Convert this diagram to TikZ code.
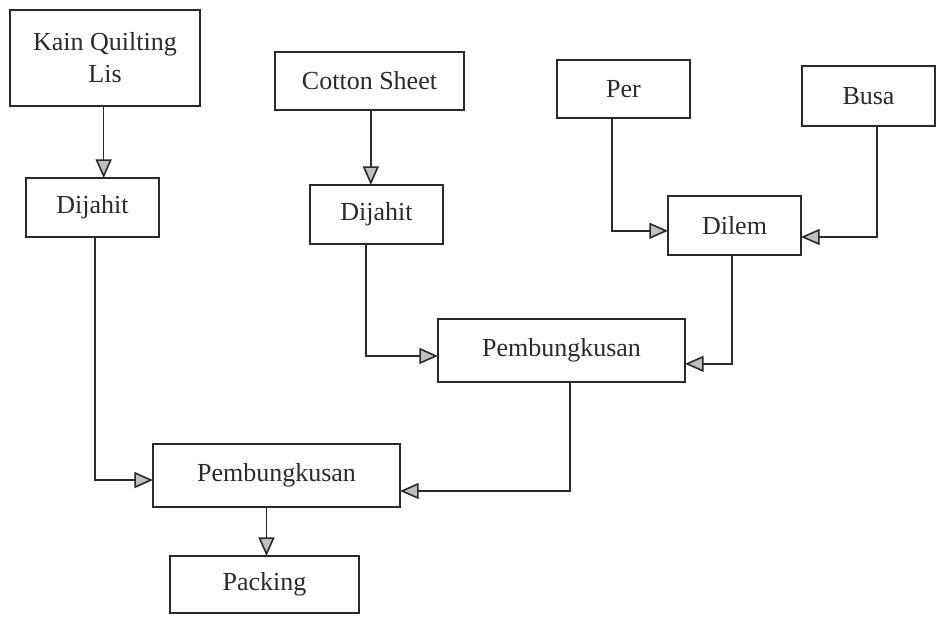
\documentclass[tikz,border=0pt]{standalone}
\usepackage{fontspec}
\setmainfont{Liberation Serif}
\usetikzlibrary{arrows.meta}
\definecolor{ink}{HTML}{2A2A2A}
\tikzset{
  box/.style={draw=ink, line width=1.2pt, text=ink, inner sep=0pt, outer sep=0pt,
    align=center, font=\fontsize{19.5}{24}\selectfont},
  flow/.style={draw=ink, line width=1.2pt,
    -{Triangle[length=14pt,width=12pt,fill=gray!50]}}
}
\begin{document}
\begin{tikzpicture}[x=0.75pt,y=-0.75pt]
\useasboundingbox (0,0) rectangle (940,619);

% raw materials
\node[box, minimum width=142.5pt, minimum height=72pt] (kain) at (105,58) {Kain Quilting\\Lis};
\node[box, minimum width=141.75pt, minimum height=43.5pt] (cotton) at (369.5,81) {Cotton Sheet};
\node[box, minimum width=99.75pt, minimum height=43.5pt] (per) at (623.5,89) {Per};
\node[box, minimum width=99.75pt, minimum height=45pt] (busa) at (868.5,96) {Busa};

% first processing steps
\node[box, minimum width=99.75pt, minimum height=44.25pt] (dij1) at (92.5,207.5) {Dijahit};
\node[box, minimum width=99.75pt, minimum height=44.25pt] (dij2) at (376.5,214.5) {Dijahit};
\node[box, minimum width=99.75pt, minimum height=44.25pt] (dilem) at (734.5,225.5) {Dilem};

% wrapping and packing
\node[box, minimum width=185.25pt, minimum height=47.25pt] (pemb2) at (561.5,350.5) {Pembungkusan};
\node[box, minimum width=185.25pt, minimum height=47.25pt] (pemb1) at (276.5,475.5) {Pembungkusan};
\node[box, minimum width=141.75pt, minimum height=42.75pt] (pack) at (264.5,584.5) {Packing};

% connectors
\draw[flow] ([xshift=-1pt]kain.south) -- ([xshift=-1pt]kain.south |- dij1.north);
\draw[flow] ([xshift=1pt]cotton.south) -- ([xshift=1pt]cotton.south |- dij2.north);
\draw[flow] ([xshift=-8.5pt]per.south) |- ([yshift=-4pt]dilem.west);
\draw[flow] ([xshift=6.4pt]busa.south) |- ([yshift=-8.6pt]dilem.east);
\draw[flow] ([xshift=1.9pt]dij1.south) |- ([yshift=-3.4pt]pemb1.west);
\draw[flow] ([xshift=-7.9pt]dij2.south) |- ([yshift=-4.1pt]pemb2.west);
\draw[flow] ([xshift=-1.9pt]dilem.south) |- ([yshift=-10pt]pemb2.east);
\draw[flow] ([xshift=6.4pt]pemb2.south) |- ([yshift=-11.6pt]pemb1.east);
\draw[flow] ([xshift=-7.5pt]pemb1.south) -- ([xshift=-7.5pt]pemb1.south |- pack.north);
\end{tikzpicture}
\end{document}
